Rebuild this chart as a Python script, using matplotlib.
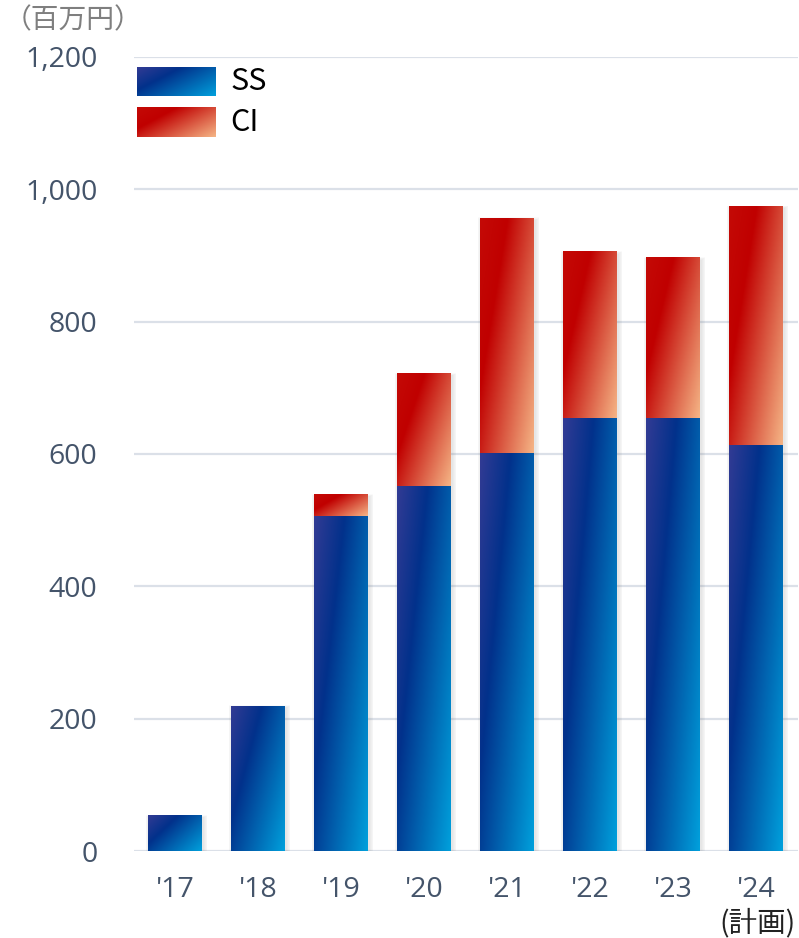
import matplotlib
matplotlib.use('Agg')
import matplotlib.pyplot as plt
import numpy as np
from matplotlib.colors import LinearSegmentedColormap
from matplotlib.patches import Rectangle

# データ（百万円）
years = ["'17", "'18", "'19", "'20", "'21", "'22", "'23", "'24"]
ss = [53, 219, 506, 551, 601, 654, 654, 613]
ci = [0, 0, 32, 170, 355, 251, 242, 361]
yticks = [0, 200, 400, 600, 800, 1000, 1200]
series = ['SS', 'CI']

plt.rcParams['font.family'] = ['Open Sans', 'Noto Sans CJK JP', 'DejaVu Sans']

blue_cmap = LinearSegmentedColormap.from_list(
    'ss', [(0, '#323b94'), (0.33, '#02318b'), (1, '#00a0dc')])
red_cmap = LinearSegmentedColormap.from_list(
    'ci', [(0, '#c40a06'), (0.3, '#c00000'), (1, '#f5b586')])


def grad_img(cmap, n=150):
    # 各矩形の中で左上→右下のグラデーション
    u = np.linspace(0, 1, n)
    uu, vv = np.meshgrid(u, u)
    t = 0.585 * uu + 0.415 * vv
    return cmap(np.clip(t, 0, 1))


blue_img = grad_img(blue_cmap)
red_img = grad_img(red_cmap)

fig = plt.figure(figsize=(7.99, 9.38), dpi=100)
ax = fig.add_axes([133.5 / 799, 87 / 938, 664 / 799, 794 / 938])

W, H = 664, 794
px_x = 8 / W          # 1px in data x
px_y = 1200 / H       # 1px in data y
bar_w = 0.65
x = np.arange(len(years))

for i in range(len(years)):
    total = ss[i] + ci[i]
    x0, x1 = x[i] - bar_w / 2, x[i] + bar_w / 2
    # 影
    for k in range(1, 6):
        ax.add_patch(Rectangle((x0 - k * 0.8 * px_x + 1.5 * px_x, -k * px_y - 2 * px_y),
                               bar_w + k * 1.6 * px_x,
                               total + k * 1.6 * px_y,
                               facecolor='#808080', edgecolor='none',
                               alpha=0.04, zorder=2))
    ax.imshow(blue_img, extent=(x0, x1, 0, ss[i]), aspect='auto',
              interpolation='bilinear', zorder=3)
    if ci[i] > 0:
        ax.imshow(red_img, extent=(x0, x1, ss[i], total), aspect='auto',
                  interpolation='bilinear', zorder=3)

# 凡例
leg_imgs = [blue_img, red_img]
leg_boxes = [(0.0053, 0.124, 0.951, 0.987), (0.0053, 0.124, 0.899, 0.936)]
for img, box, name in zip(leg_imgs, leg_boxes, series):
    ax.imshow(img, extent=box, aspect='auto', interpolation='bilinear',
              transform=ax.transAxes, zorder=5)
    ax.text(0.146, (box[2] + box[3]) / 2, name, transform=ax.transAxes,
            fontsize=22, color='black', va='center', ha='left',
            family=['Noto Sans CJK JP', 'DejaVu Sans'])

ax.set_xlim(-0.5, len(years) - 0.5)
ax.set_ylim(0, 1200)
ax.set_yticks(yticks)
ax.set_yticklabels([f'{v:,}' for v in yticks])
ax.set_xticks(x)
ax.set_xticklabels(years)
ax.tick_params(axis='both', length=0, labelsize=20.5, labelcolor='#44546a')
ax.tick_params(axis='y', pad=26)
ax.tick_params(axis='x', pad=18)
ax.yaxis.grid(True, color='#dbe0e8', linewidth=1.6, zorder=0)
ax.set_axisbelow(True)
for s in ax.spines.values():
    s.set_visible(False)

ax.annotate('(計画)', xy=(x[-1], 0), xycoords='data',
            xytext=(1, -52), textcoords='offset points',
            ha='center', va='center', fontsize=20.5, color='#222222',
            family=['Noto Sans CJK JP', 'DejaVu Sans'], annotation_clip=False)

fig.text(4 / 799, 1 - 5 / 938, '（百万円）', ha='left', va='top',
         fontsize=20, color='#7f7f7f', family=['Noto Sans CJK JP', 'DejaVu Sans'])

fig.savefig('out.png', dpi=100)
